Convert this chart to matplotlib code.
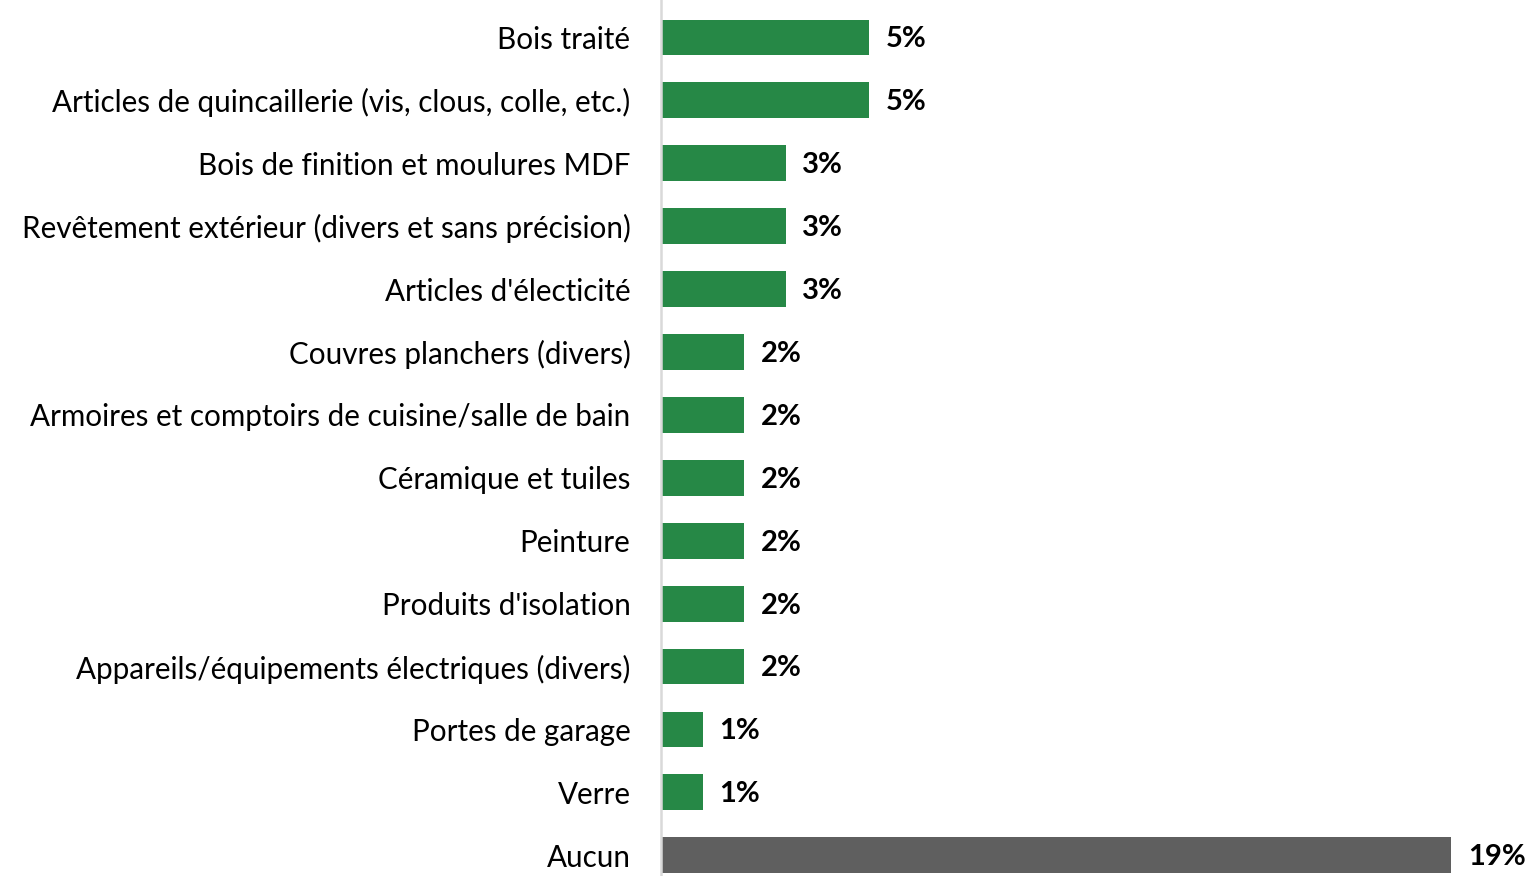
import matplotlib.pyplot as plt

# categories and shares (%), top to bottom
categories = [
    "Bois traité",
    "Articles de quincaillerie (vis, clous, colle, etc.)",
    "Bois de finition et moulures MDF",
    "Revêtement extérieur (divers et sans précision)",
    "Articles d'électicité",
    "Couvres planchers (divers)",
    "Armoires et comptoirs de cuisine/salle de bain",
    "Céramique et tuiles",
    "Peinture",
    "Produits d'isolation",
    "Appareils/équipements électriques (divers)",
    "Portes de garage",
    "Verre",
    "Aucun",
]
values = [5, 5, 3, 3, 3, 2, 2, 2, 2, 2, 2, 1, 1, 19]
colors = ["#268846"] * 13 + ["#5f5f5f"]

plt.rcParams['font.family'] = ['Lato', 'DejaVu Sans']

fig = plt.figure(figsize=(15.31, 8.76), dpi=100)
ax = fig.add_axes([661 / 1531, 0, 1 - 661 / 1531, 1])

y = list(range(len(categories)))
ax.barh(y, values, height=0.57, color=colors)

for yi, v in zip(y, values):
    ax.text(v + 0.4, yi + 0.03, f"{v}%", va='center', ha='left',
            fontsize=21, fontweight='bold', color='black')

ax.set_xlim(0, 870 / 41.6)
ax.set_ylim(13.33, -0.596)
ax.set_yticks(y)
ax.set_yticklabels(categories, fontsize=21.3)
ax.tick_params(axis='y', length=0, pad=22)
ax.set_xticks([])
for s in ['top', 'right', 'bottom']:
    ax.spines[s].set_visible(False)
ax.spines['left'].set_color('#d9d9d9')
ax.spines['left'].set_linewidth(1.8)

fig.savefig("out.png", dpi=100)
